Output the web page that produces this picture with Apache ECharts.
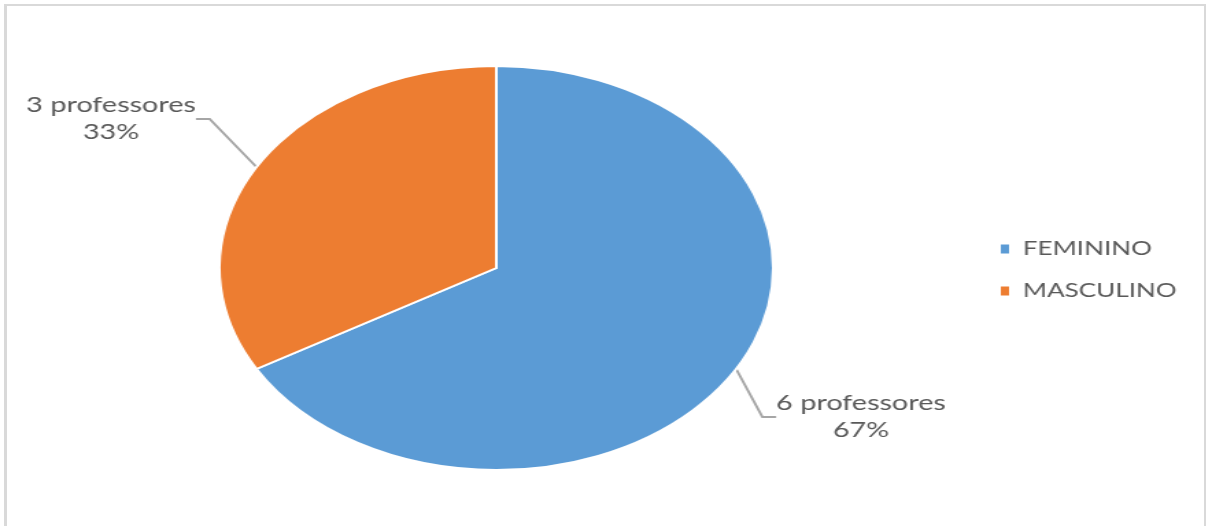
<!DOCTYPE html>
<html>
<head>
<meta charset="utf-8">
<script src="https://cdn.jsdelivr.net/npm/echarts@6/dist/echarts.min.js"></script>
<style>
  html, body { margin: 0; padding: 0; background: #fff; overflow: hidden; }
  #frame { position: absolute; left: 4px; top: 4px; width: 1202px; height: 540px;
           border-left: 3px solid #d9d9d9; border-top: 2px solid #d9d9d9; border-right: 2px solid #d9d9d9; box-sizing: border-box; }
  #wrap { position: absolute; left: 0; top: 0; width: 884px; height: 526px;
          transform: scaleX(1.371); transform-origin: 0 0; }
</style>
</head>
<body>
<div id="frame"></div>
<div id="wrap"></div>
<script>
// Teachers by sex
const categories = ['FEMININO', 'MASCULINO'];
const professores = [6, 3];
const colors = ['#5B9BD5', '#ED7D31'];

// label anchor points (chart units) for each slice
const labelPos = {
  FEMININO: [628, 417],
  MASCULINO: [81, 119]
};

const chart = echarts.init(document.getElementById('wrap'));

chart.setOption({
  animation: false,
  color: colors,
  legend: {
    orient: 'vertical',
    left: 725,
    top: 234,
    icon: 'rect',
    itemWidth: 6,
    itemHeight: 9,
    itemGap: 22,
    data: categories,
    itemStyle: { borderWidth: 0 },
    textStyle: { color: '#595959', fontFamily: 'Lato', fontSize: 19, lineHeight: 20, padding: [0, 0, 0, 5] }
  },
  series: [{
    type: 'pie',
    center: [362, 268],
    radius: 202,
    startAngle: 90,
    clockwise: true,
    percentPrecision: 0,
    itemStyle: { borderColor: '#fff', borderWidth: 2 },
    label: {
      show: true,
      formatter: '{c} professores\n{d}%',
      color: '#595959',
      fontFamily: 'Lato',
      fontSize: 21,
      lineHeight: 27,
      align: 'center'
    },
    labelLine: {
      show: true,
      length: 30,
      length2: 10,
      lineStyle: { color: '#a6a6a6', width: 2 }
    },
    labelLayout: function (params) {
      const name = categories[params.dataIndex];
      const p = labelPos[name];
      return { x: p[0], y: p[1], align: 'center', verticalAlign: 'middle' };
    },
    data: categories.map((c, i) => ({ name: c, value: professores[i] }))
  }]
});
</script>
</body>
</html>
